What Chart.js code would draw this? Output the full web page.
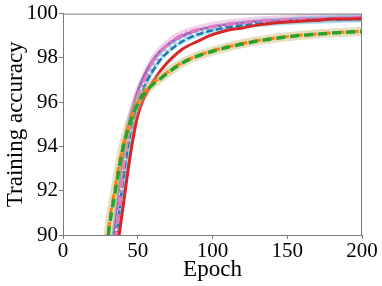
<!DOCTYPE html>
<html>
<head>
<meta charset="utf-8">
<script src="https://cdn.jsdelivr.net/npm/chart.js@4"></script>
<style>
  html, body { margin: 0; padding: 0; background: #fff; }
  #wrap { width: 382px; height: 286px; }
</style>
</head>
<body>
<div id="wrap"><canvas id="accChart" width="382" height="286"></canvas></div>
<script>
const epochs = [20, 30, 35, 40, 45, 50, 55, 60, 65, 70, 80, 90, 100, 110, 120, 130, 140, 150, 160, 170, 180, 190, 200];

const pinkAcc   = [80.0, 87.4, 89.6, 92.8, 95.0, 96.3, 97.1, 97.8, 98.26, 98.6, 99.05, 99.27, 99.42, 99.52, 99.6, 99.66, 99.7, 99.73, 99.76, 99.78, 99.8, 99.82, 99.83];
const purpleAcc = [80.5, 88.2, 90.5, 93.3, 95.3, 96.5, 97.3, 97.9, 98.3, 98.6, 99.0, 99.25, 99.4, 99.5, 99.58, 99.64, 99.68, 99.71, 99.74, 99.76, 99.78, 99.8, 99.81];
const cyanAcc   = [80.2, 87.8, 90.0, 92.8, 94.9, 96.1, 97.0, 97.6, 98.05, 98.4, 98.85, 99.12, 99.3, 99.42, 99.5, 99.57, 99.62, 99.66, 99.7, 99.72, 99.75, 99.77, 99.78];
const blueAcc   = [80.0, 87.5, 89.6, 92.4, 94.6, 95.9, 96.8, 97.4, 97.9, 98.25, 98.75, 99.05, 99.25, 99.38, 99.47, 99.55, 99.6, 99.65, 99.68, 99.7, 99.73, 99.74, 99.75];
const redAcc    = [79.5, 86.5, 88.8, 91.2, 93.6, 95.4, 96.3, 96.9, 97.4, 97.8, 98.4, 98.75, 99.05, 99.25, 99.35, 99.48, 99.56, 99.62, 99.66, 99.7, 99.76, 99.76, 99.78];
const orangeAcc = [82.0, 90.0, 92.2, 94.0, 95.2, 96.0, 96.5, 96.85, 97.1, 97.35, 97.8, 98.1, 98.32, 98.5, 98.65, 98.78, 98.88, 98.96, 99.03, 99.08, 99.13, 99.17, 99.2];
const greenAcc  = [81.8, 89.8, 92.0, 93.9, 95.1, 95.95, 96.45, 96.8, 97.05, 97.32, 97.78, 98.08, 98.3, 98.48, 98.63, 98.76, 98.86, 98.95, 99.02, 99.07, 99.12, 99.16, 99.19];
const oliveAcc  = [81.9, 89.9, 92.1, 93.95, 95.15, 95.98, 96.48, 96.83, 97.08, 97.34, 97.79, 98.09, 98.31, 98.49, 98.64, 98.77, 98.87, 98.95, 99.02, 99.08, 99.12, 99.16, 99.2];

const xTicks = [0, 50, 100, 150, 200];
const yTicks = [90, 92, 94, 96, 98, 100];

const pts = (vals) => epochs.map((e, i) => ({ x: e, y: vals[i] }));

function line(vals, color, width, dash) {
  return {
    data: pts(vals),
    borderColor: color,
    borderWidth: width,
    borderDash: dash || [],
    borderCapStyle: 'butt',
    pointRadius: 0,
    fill: false,
    cubicInterpolationMode: 'monotone',
    clip: 0
  };
}

// first dataset is drawn on top
const datasets = [
  line(greenAcc, '#2ca02c', 3.5, [9, 5]),
  line(orangeAcc, '#ff7f0e', 3, [9, 5]),
  line(oliveAcc, 'rgba(200,185,110,0.45)', 9),
  line(redAcc, '#d62728', 3),
  line(pinkAcc, '#e377c2', 3, [10, 3, 2, 3]),
  line(blueAcc, '#1f77b4', 2.5, [7, 3]),
  line(cyanAcc, 'rgba(255,255,255,0.9)', 2, [3, 3]),
  line(purpleAcc, '#9467bd', 2.5),
  line(cyanAcc, 'rgba(23,190,207,0.35)', 8),
  line(pinkAcc, 'rgba(227,119,194,0.35)', 9)
];

const frame = {
  id: 'frame',
  afterDatasetsDraw(chart) {
    const { ctx, chartArea: a } = chart;
    ctx.save();
    ctx.strokeStyle = '#7a7a7a';
    ctx.lineWidth = 1;
    ctx.strokeRect(a.left + 0.5, a.top + 0.5, a.right - a.left - 1, a.bottom - a.top);
    ctx.restore();
  }
};

const font = 'Liberation Serif, Times New Roman, serif';

new Chart(document.getElementById('accChart'), {
  type: 'line',
  data: { datasets },
  plugins: [frame],
  options: {
    responsive: false,
    animation: false,
    layout: { padding: { top: 11, right: 20, left: 0, bottom: 0 } },
    plugins: { legend: { display: false }, tooltip: { enabled: false } },
    scales: {
      x: {
        type: 'linear', min: 0, max: 200,
        afterBuildTicks: (s) => { s.ticks = xTicks.map(v => ({ value: v })); },
        afterFit: (s) => { s.height = 51; },
        ticks: { color: '#000', font: { family: font, size: 21 }, padding: 0, maxRotation: 0 },
        grid: { drawOnChartArea: false, tickLength: 4, color: '#7a7a7a' },
        border: { color: '#7a7a7a' },
        title: { display: true, text: 'Epoch', color: '#000', font: { family: font, size: 23 }, padding: { top: 0, bottom: 2 } }
      },
      y: {
        min: 90, max: 100,
        afterBuildTicks: (s) => { s.ticks = yTicks.map(v => ({ value: v })); },
        afterFit: (s) => { s.width = 63; },
        ticks: { color: '#000', font: { family: font, size: 21 }, padding: 1 },
        grid: { drawOnChartArea: false, tickLength: 4, color: '#7a7a7a' },
        border: { color: '#7a7a7a' },
        title: { display: true, text: 'Training accuracy', color: '#000', font: { family: font, size: 23 }, padding: { top: 2, bottom: 0 } }
      }
    }
  }
});
</script>
</body>
</html>
